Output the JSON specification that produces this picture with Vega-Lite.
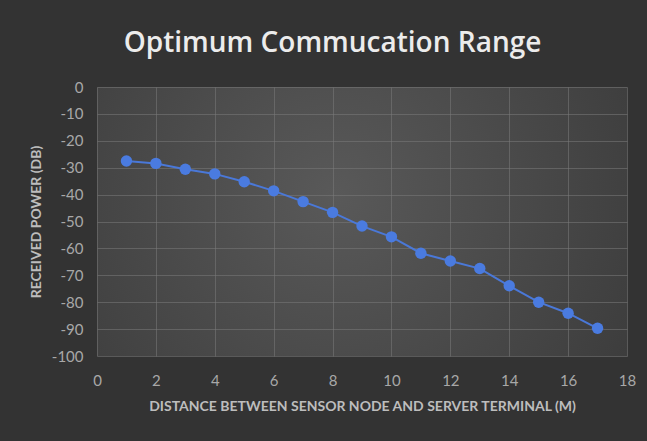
{
  "$schema": "https://vega.github.io/schema/vega-lite/v6.json",
  "autosize": "none",
  "width": 530,
  "height": 269,
  "padding": {"left": 97, "top": 87, "right": 20, "bottom": 85},
  "background": "#333333",
  "view": {
    "stroke": null,
    "fill": {"expr": "{gradient: 'radial', x1: 0.45, y1: 0.45, x2: 0.45, y2: 0.45, r1: 0, r2: 0.85, stops: [{offset: 0, color: '#595959'}, {offset: 1, color: '#333333'}]}"}
  },
  "title": {
    "text": "Optimum Commucation Range",
    "font": "Open Sans",
    "fontSize": 28,
    "fontWeight": 600,
    "color": "#ececec",
    "anchor": "middle",
    "frame": "bounds",
    "baseline": "alphabetic",
    "offset": 0
  },
  "data": {
    "values": [
      {"distance": 1, "power": -27.5},
      {"distance": 2, "power": -28.4},
      {"distance": 3, "power": -30.6},
      {"distance": 4, "power": -32.3},
      {"distance": 5, "power": -35.2},
      {"distance": 6, "power": -38.6},
      {"distance": 7, "power": -42.6},
      {"distance": 8, "power": -46.6},
      {"distance": 9, "power": -51.7},
      {"distance": 10, "power": -55.7},
      {"distance": 11, "power": -61.8},
      {"distance": 12, "power": -64.7},
      {"distance": 13, "power": -67.5},
      {"distance": 14, "power": -73.9},
      {"distance": 15, "power": -80.0},
      {"distance": 16, "power": -84.1},
      {"distance": 17, "power": -89.7}
    ]
  },
  "encoding": {
    "x": {
      "field": "distance",
      "type": "quantitative",
      "scale": {"domain": [0, 18], "nice": false},
      "axis": {
        "title": "DISTANCE BETWEEN SENSOR NODE AND SERVER TERMINAL (M)",
        "values": [0, 2, 4, 6, 8, 10, 12, 14, 16, 18],
        "labelExpr": "'' + datum.value",
        "labelFlush": false,
        "domain": false,
        "ticks": false,
        "grid": true,
        "gridColor": "#7a7a7a",
        "gridOpacity": 0.55,
        "labelPadding": 17,
        "labelFont": "Lato",
        "labelFontSize": 15,
        "labelColor": "#a8a8a8",
        "titleFont": "Lato",
        "titleFontSize": 14,
        "titleFontWeight": "bold",
        "titleColor": "#bdbdbd",
        "titlePadding": 11
      }
    },
    "y": {
      "field": "power",
      "type": "quantitative",
      "scale": {"domain": [-100, 0], "nice": false},
      "axis": {
        "title": "RECEIVED POWER (DB)",
        "values": [0, -10, -20, -30, -40, -50, -60, -70, -80, -90, -100],
        "labelExpr": "'' + datum.value",
        "labelFlush": false,
        "domain": false,
        "ticks": false,
        "grid": true,
        "gridColor": "#7a7a7a",
        "gridOpacity": 0.55,
        "labelPadding": 14,
        "labelFont": "Lato",
        "labelFontSize": 15,
        "labelColor": "#a8a8a8",
        "titleFont": "Lato",
        "titleFontSize": 14,
        "titleFontWeight": "bold",
        "titleColor": "#bdbdbd",
        "titlePadding": 8
      }
    }
  },
  "layer": [
    {"mark": {"type": "line", "color": "#4a78d8", "strokeWidth": 2}},
    {"mark": {"type": "point", "filled": true, "color": "#4a7be0", "opacity": 1, "size": 130}}
  ]
}
